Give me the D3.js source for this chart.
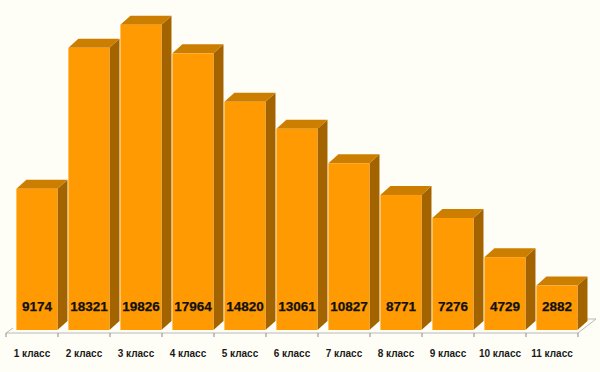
<!DOCTYPE html>
<html>
<head>
<meta charset="utf-8">
<script src="https://cdn.jsdelivr.net/npm/d3@7"></script>
<style>
  body { margin: 0; background: #fffef6; }
  svg { display: block; }
  .val { font-family: 'Liberation Sans', Arial, sans-serif; font-weight: bold; font-size: 13.5px; fill: #111; stroke: #111; stroke-width: 0.25px; }
  .cat { font-family: 'Liberation Sans', Arial, sans-serif; font-weight: bold; font-size: 10px; fill: #1a1a1a; }
</style>
</head>
<body>
<div id="chart"></div>
<script>
'use strict';

const categories = ['1 класс', '2 класс', '3 класс', '4 класс', '5 класс', '6 класс',
                    '7 класс', '8 класс', '9 класс', '10 класс', '11 класс'];
const pupils = [9174, 18321, 19826, 17964, 14820, 13061, 10827, 8771, 7276, 4729, 2882];

const width = 600, height = 372;
const floorY = 333;       // front edge of the floor
const baseY = 330;        // where bars stand
const depth = {x: 10, y: 9};
const floorDepth = {x: 18, y: 14};

const svg = d3.select('#chart').append('svg')
  .attr('width', width)
  .attr('height', height);

svg.append('rect')
  .attr('width', '100%').attr('height', '100%')
  .attr('fill', '#fffef6');

const x = d3.scaleBand()
  .domain(categories)
  .range([6, 578]);

const y = d3.scaleLinear()
  .domain([0, 20000])
  .range([baseY, 22]);

// bars sit a bit right of the band because of the 3d view
const barOffset = x.step() * 0.2;
const barWidth = x.step() * 0.79;

// floor
const x0 = x.range()[0], x1 = x.range()[1];
svg.append('path')
  .attr('d', 'M' + x0 + ',' + floorY +
             'L' + x1 + ',' + floorY +
             'L' + (x1 + floorDepth.x) + ',' + (floorY - floorDepth.y) +
             'L' + (x1 + floorDepth.x - 40) + ',' + (floorY - floorDepth.y))
  .attr('fill', 'none')
  .attr('stroke', '#b8b8b8')
  .attr('stroke-width', 1);
svg.append('line')
  .attr('x1', x0).attr('y1', floorY)
  .attr('x2', x0 + 7).attr('y2', floorY - 5)
  .attr('stroke', '#b8b8b8');

// ticks between categories
const tickPos = categories.map(c => x(c)).concat([x1]);
svg.append('g').selectAll('line')
  .data(tickPos)
  .enter().append('line')
    .attr('x1', d => d).attr('x2', d => d)
    .attr('y1', floorY).attr('y2', floorY + 4)
    .attr('stroke', '#8a8a8a');

const bars = svg.append('g').selectAll('g')
  .data(pupils)
  .enter().append('g');

const bx = (d, i) => x(categories[i]) + barOffset;

// side face
bars.append('path')
  .attr('d', (d, i) => {
    const l = bx(d, i) + barWidth, t = y(d);
    return 'M' + l + ',' + t + 'L' + (l + depth.x) + ',' + (t - depth.y) +
           'L' + (l + depth.x) + ',' + (baseY - depth.y) + 'L' + l + ',' + baseY + 'Z';
  })
  .attr('fill', '#a36400');

// top face
bars.append('path')
  .attr('d', (d, i) => {
    const l = bx(d, i), t = y(d);
    return 'M' + l + ',' + t + 'L' + (l + depth.x) + ',' + (t - depth.y) +
           'L' + (l + barWidth + depth.x) + ',' + (t - depth.y) +
           'L' + (l + barWidth) + ',' + t + 'Z';
  })
  .attr('fill', '#cc7e00');

// front face
bars.append('rect')
  .attr('x', bx)
  .attr('y', d => y(d))
  .attr('width', barWidth)
  .attr('height', d => baseY - y(d))
  .attr('fill', '#ff9a02');

bars.append('text')
  .attr('class', 'val')
  .attr('x', (d, i) => bx(d, i) + barWidth / 2)
  .attr('y', 311)
  .attr('text-anchor', 'middle')
  .text(d => d);

svg.append('g').selectAll('text')
  .data(categories)
  .enter().append('text')
    .attr('class', 'cat')
    .attr('x', d => x(d) + x.bandwidth() / 2)
    .attr('y', 357)
    .attr('text-anchor', 'middle')
    .text(d => d);
</script>
</body>
</html>
